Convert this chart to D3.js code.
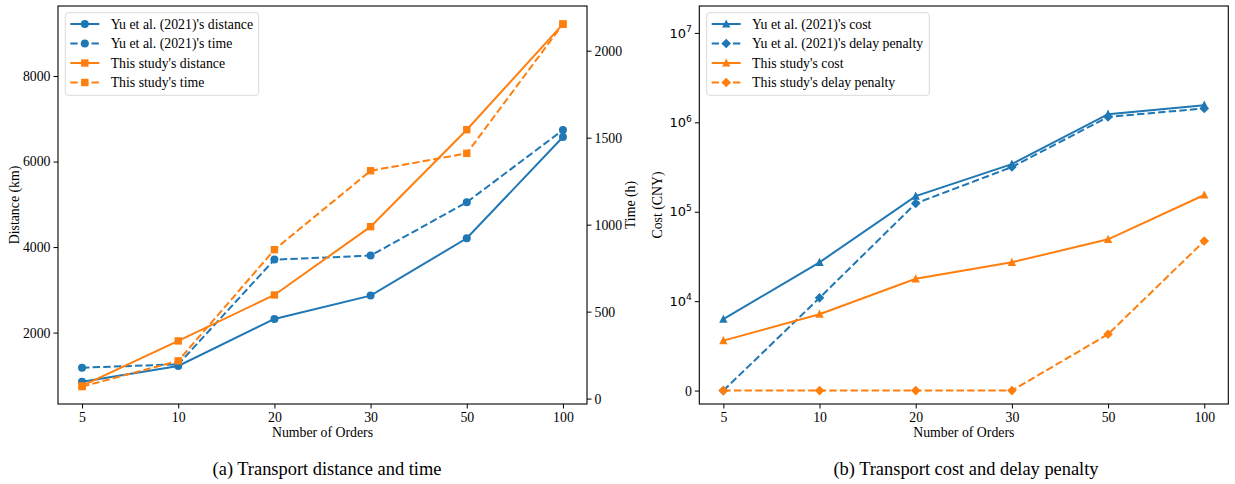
<!DOCTYPE html>
<html>
<head>
<meta charset="utf-8">
<script src="https://cdn.jsdelivr.net/npm/d3@7"></script>
<style>
  body { margin: 0; background: #fff; }
</style>
</head>
<body>
<script>
const W = 1235, H = 484;
const serif = "Liberation Serif, Times New Roman, serif";

// categories
const orders = ["5", "10", "20", "30", "50", "100"];

// (a) distance (km) and time (h)
const yuDistance = [852, 1220, 2320, 2865, 4205, 6575];
const yuTime = [178, 197, 799, 822, 1129, 1544];
const ourDistance = [753, 1805, 2880, 4477, 6745, 9215];
const ourTime = [69, 217, 856, 1310, 1410, 2153];

// (b) cost and delay penalty (CNY)
const yuCost = [7980, 27200, 149600, 341000, 1235000, 1556000];
const yuDelay = [0, 10890, 124000, 316000, 1150000, 1430000];
const ourCost = [5590, 8540, 17800, 27200, 49200, 154000];
const ourDelay = [0, 0, 0, 0, 6300, 47100];

// tick labels
const distTicks = [2000, 4000, 6000, 8000];
const timeTicks = [0, 500, 1000, 1500, 2000];
const costTicks = [0, 1e4, 1e5, 1e6, 1e7];

const blue = "#1f77b4", orange = "#ff7f0e";
const fs = 13.8;

const svg = d3.select("body").append("svg")
    .attr("width", W).attr("height", H)
    .attr("viewBox", [0, 0, W, H])
    .attr("font-family", serif);
svg.append("rect").attr("width", W).attr("height", H).attr("fill", "#fff");

// marker shapes, roughly matplotlib sized
const mk = {
  circle: { draw(c) { c.moveTo(4, 0); c.arc(0, 0, 4, 0, 2 * Math.PI); } },
  square: { draw(c) { c.rect(-3.7, -3.7, 7.4, 7.4); } },
  triangle: { draw(c) { c.moveTo(0, -4.6); c.lineTo(4.2, 3.6); c.lineTo(-4.2, 3.6); c.closePath(); } },
  diamond: { draw(c) { c.moveTo(0, -4.8); c.lineTo(4.8, 0); c.lineTo(0, 4.8); c.lineTo(-4.8, 0); c.closePath(); } }
};

function drawSeries(g, x, y, vals, color, dashed, shape) {
  const pts = vals.map((v, i) => [x(orders[i]), y(v)]);
  g.append("path")
    .attr("d", d3.line()(pts))
    .attr("fill", "none")
    .attr("stroke", color)
    .attr("stroke-width", 2)
    .attr("stroke-dasharray", dashed ? "7.4,3.2" : null);
  g.selectAll(null).data(pts).join("path")
    .attr("transform", d => `translate(${d[0]},${d[1]})`)
    .attr("d", d3.symbol().type(mk[shape])())
    .attr("fill", color);
}

function legend(g, x0, y0, w, items) {
  g.append("rect")
    .attr("x", x0).attr("y", y0).attr("width", w).attr("height", 82.6)
    .attr("rx", 3).attr("fill", "#fff").attr("fill-opacity", 0.8)
    .attr("stroke", "#d9d9d9").attr("stroke-width", 1);
  items.forEach((it, i) => {
    const cy = y0 + 11.3 + i * 19.5;
    g.append("path")
      .attr("d", d3.line()([[x0 + 5, cy], [x0 + 34, cy]]))
      .attr("stroke", it.color).attr("stroke-width", 2)
      .attr("stroke-dasharray", it.dashed ? "7.4,3.2" : null);
    g.append("path")
      .attr("transform", `translate(${x0 + 19.5},${cy})`)
      .attr("d", d3.symbol().type(mk[it.shape])())
      .attr("fill", it.color);
    g.append("text")
      .attr("x", x0 + 45.4).attr("y", cy)
      .attr("dominant-baseline", "central")
      .attr("font-size", fs)
      .text(it.label);
  });
}

function styleAxis(a) {
  a.select(".domain").remove();
  a.attr("font-family", serif).attr("font-size", fs);
  a.selectAll(".tick line").attr("stroke", "#000").attr("stroke-width", 1);
  a.selectAll(".tick text").attr("fill", "#000");
}

function label(g, x, y, txt, rot, size) {
  g.append("text")
    .attr("transform", `translate(${x},${y})` + (rot ? " rotate(-90)" : ""))
    .attr("text-anchor", "middle").attr("dominant-baseline", "central")
    .attr("font-size", size || fs).text(txt);
}

// ---------- (a) ----------
const A = { l: 58, r: 587, t: 6, b: 404 };
const xa = d3.scalePoint().domain(orders).range([A.l, A.r]).padding(0.25);
const yDist = d3.scaleLinear().domain([330, 9638]).range([A.b, A.t]);
const yTime = d3.scaleLinear().domain([-31, 2257]).range([A.b, A.t]);

const ga = svg.append("g");
ga.append("g").attr("transform", `translate(0,${A.b})`)
  .call(d3.axisBottom(xa).tickSize(4.5).tickPadding(4)).call(styleAxis);
ga.append("g").attr("transform", `translate(${A.l},0)`)
  .call(d3.axisLeft(yDist).tickValues(distTicks).tickFormat(d3.format("d")).tickSize(4.5).tickPadding(3)).call(styleAxis);
ga.append("g").attr("transform", `translate(${A.r},0)`)
  .call(d3.axisRight(yTime).tickValues(timeTicks).tickFormat(d3.format("d")).tickSize(4.5).tickPadding(3)).call(styleAxis);

drawSeries(ga, xa, yDist, yuDistance, blue, false, "circle");
drawSeries(ga, xa, yTime, yuTime, blue, true, "circle");
drawSeries(ga, xa, yDist, ourDistance, orange, false, "square");
drawSeries(ga, xa, yTime, ourTime, orange, true, "square");

ga.append("rect").attr("x", A.l).attr("y", A.t).attr("width", A.r - A.l).attr("height", A.b - A.t)
  .attr("fill", "none").attr("stroke", "#000").attr("stroke-width", 1.1);

legend(ga, 65.3, 12.7, 193.4, [
  { label: "Yu et al. (2021)'s distance", color: blue, dashed: false, shape: "circle" },
  { label: "Yu et al. (2021)'s time", color: blue, dashed: true, shape: "circle" },
  { label: "This study's distance", color: orange, dashed: false, shape: "square" },
  { label: "This study's time", color: orange, dashed: true, shape: "square" }
]);

label(ga, 14.5, 205, "Distance (km)", true);
label(ga, 630.5, 205, "Time (h)", true);
label(ga, (A.l + A.r) / 2, 432, "Number of Orders");
label(ga, 327, 469, "(a) Transport distance and time", false, 18.4);

// ---------- (b) ----------
const B = { l: 699.3, r: 1228.3, t: 6, b: 404 };
const xb = d3.scalePoint().domain(orders).range([B.l, B.r]).padding(0.25);
// symlog-like: linear below 1e4, log above (in decades)
const lin = 1e4;
const tf = v => v <= lin ? v / lin : 1 + Math.log10(v / lin);
const yT = d3.scaleLinear().domain([-0.15, tf(2e7)]).range([B.b, B.t]);
const yCost = v => yT(tf(v));

const gb = svg.append("g");
gb.append("g").attr("transform", `translate(0,${B.b})`)
  .call(d3.axisBottom(xb).tickSize(4.5).tickPadding(4)).call(styleAxis);
const ya = gb.append("g").attr("transform", `translate(${B.l},0)`)
  .call(d3.axisLeft(yT).tickValues(costTicks.map(tf)).tickSize(4.5).tickPadding(3).tickFormat(""))
  .call(styleAxis);
ya.selectAll(".tick text").each(function(d, i) {
  const t = d3.select(this);
  const v = costTicks[i];
  if (v === 0) { t.text("0"); return; }
  const e = Math.round(Math.log10(v));
  t.attr("font-family", "DejaVu Sans").attr("font-size", 13);
  t.append("tspan").text("10");
  t.append("tspan").attr("dy", -5.5).attr("font-size", 9.2).text(e);
});

drawSeries(gb, xb, yCost, yuCost, blue, false, "triangle");
drawSeries(gb, xb, yCost, yuDelay, blue, true, "diamond");
drawSeries(gb, xb, yCost, ourCost, orange, false, "triangle");
drawSeries(gb, xb, yCost, ourDelay, orange, true, "diamond");

gb.append("rect").attr("x", B.l).attr("y", B.t).attr("width", B.r - B.l).attr("height", B.b - B.t)
  .attr("fill", "none").attr("stroke", "#000").attr("stroke-width", 1.1);

legend(gb, 706.7, 12.7, 222.6, [
  { label: "Yu et al. (2021)'s cost", color: blue, dashed: false, shape: "triangle" },
  { label: "Yu et al. (2021)'s delay penalty", color: blue, dashed: true, shape: "diamond" },
  { label: "This study's cost", color: orange, dashed: false, shape: "triangle" },
  { label: "This study's delay penalty", color: orange, dashed: true, shape: "diamond" }
]);

label(gb, 657.7, 205, "Cost (CNY)", true);
label(gb, (B.l + B.r) / 2, 432, "Number of Orders");
label(gb, 966, 469, "(b) Transport cost and delay penalty", false, 18.4);
</script>
</body>
</html>
